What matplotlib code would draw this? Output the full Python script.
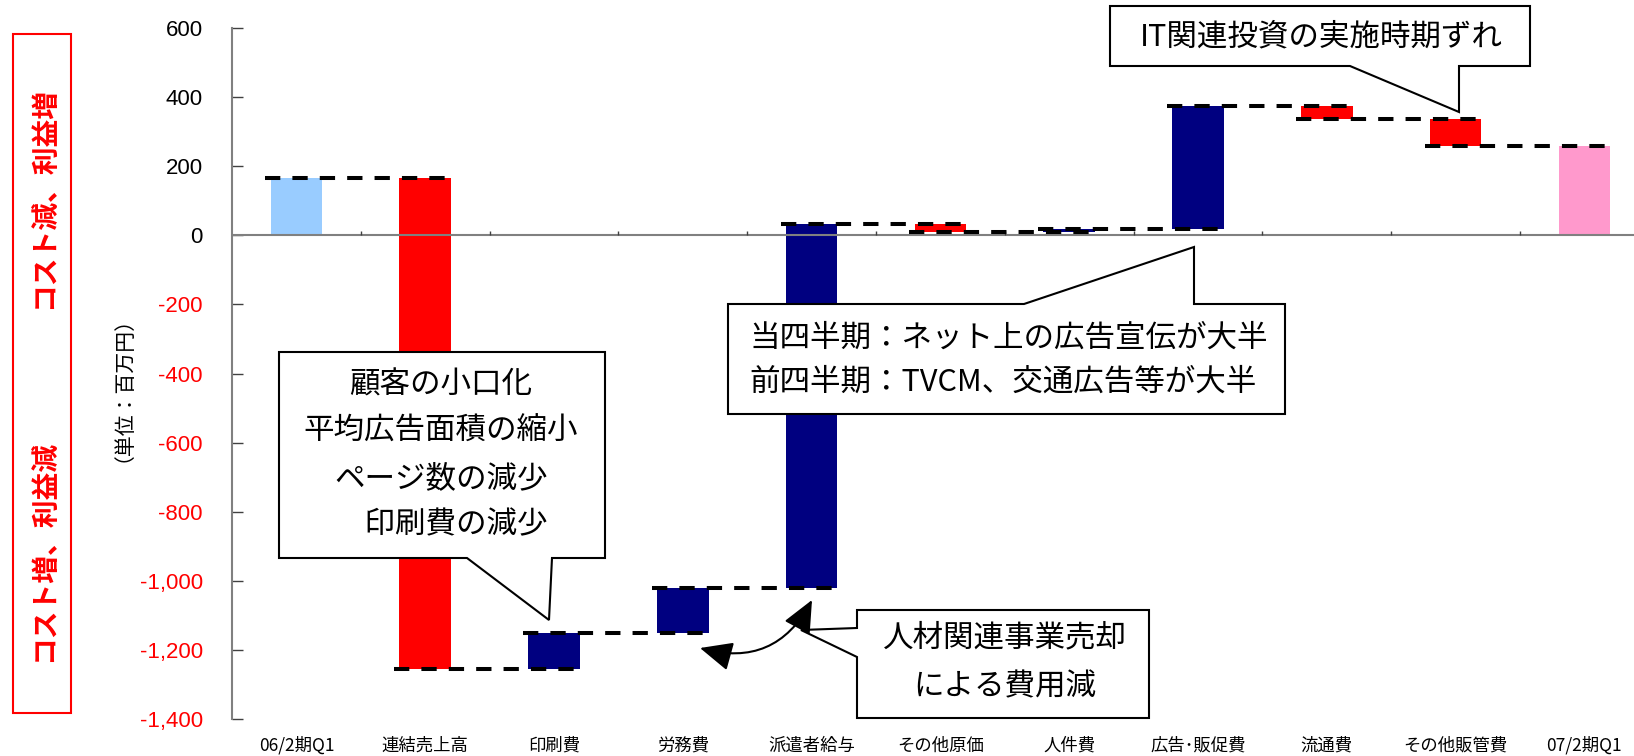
import matplotlib.pyplot as plt
import numpy as np
from matplotlib.patches import Polygon, Rectangle, FancyArrowPatch

plt.rcParams['font.family'] = ['Noto Sans CJK JP', 'DejaVu Sans']

# data (百万円)
categories = ['06/2期Q1', '連結売上高', '印刷費', '労務費', '派遣者給与', 'その他原価',
              '人件費', '広告･販促費', '流通費', 'その他販管費', '07/2期Q1']
start_value = 165
changes = [-1420, 105, 130, 1052, -23, 8, 356, -37, -78]
end_value = 258
yticks = [600, 400, 200, 0, -200, -400, -600, -800, -1000, -1200, -1400]

W, H = 1634, 756


def P(x, y):
    # pixel position (from top-left) -> figure fraction
    return (x / W, 1 - y / H)


fig = plt.figure(figsize=(W / 100, H / 100), dpi=100)
ax = fig.add_axes([232 / W, 1 - 719 / H, (W - 232) / W, (719 - 28) / H])

# waterfall geometry
levels = np.concatenate([[start_value], start_value + np.cumsum(changes)])
n = len(categories)
x = np.arange(n)
bottoms, heights, colors = [], [], []
bottoms.append(0); heights.append(start_value); colors.append('#99CCFF')
for i, c in enumerate(changes):
    bottoms.append(levels[i])
    heights.append(c)
    colors.append('#FF0000' if c < 0 else '#000080')
bottoms.append(0); heights.append(end_value); colors.append('#FF99CC')

bw = 0.4
ax.bar(x, heights, bottom=bottoms, width=bw, color=colors, zorder=2)

# connectors
for i in range(n - 1):
    ax.plot([x[i] - bw / 2 - 0.04, x[i + 1] + bw / 2], [levels[i], levels[i]],
            color='black', lw=2.9, dashes=(3.8, 3.0), solid_capstyle='butt',
            dash_capstyle='butt', zorder=4)

ax.axhline(0, color='#808080', lw=1.5, zorder=3)
ax.vlines(np.arange(0.5, n - 0.5), 0, 12, color='#404040', lw=1, zorder=3)

ax.set_xlim(-0.5, -0.5 + (W - 232) / 128.8)
ax.set_ylim(-1400, 600)
for s in ['top', 'right', 'bottom']:
    ax.spines[s].set_visible(False)
ax.spines['left'].set_color('#808080')
ax.spines['left'].set_linewidth(1.5)
ax.set_xticks([])
ax.set_yticks(yticks)
ax.set_yticklabels(['{:,}'.format(v) for v in yticks], family='Liberation Sans', fontsize=16)
for lab, v in zip(ax.get_yticklabels(), yticks):
    lab.set_color('red' if v < 0 else 'black')
ax.tick_params(axis='y', direction='in', length=8, width=1, color='#404040', pad=21)

for i, c in enumerate(categories):
    ax.annotate(c, xy=(i, 0), xycoords=('data', 'axes fraction'), xytext=(0, -19),
                textcoords='offset points', ha='center', va='center', fontsize=12.5)

# left side box
fig.add_artist(Rectangle(P(13, 713), 58 / W, (713 - 34) / H, transform=fig.transFigure,
                         fill=False, edgecolor='red', lw=1.5))
fig.text(*P(45, 198), 'コスト減、利益増', rotation=90, color='red', fontsize=20,
         fontweight='bold', ha='center', va='center')
fig.text(*P(45, 551), 'コスト増、利益減', rotation=90, color='red', fontsize=20,
         fontweight='bold', ha='center', va='center')
fig.text(*P(113, 378), '（単位：百万円）', rotation=90, fontsize=15, ha='center', va='center')


# callouts
def callout(pts):
    fig.add_artist(Polygon([P(px, py) for px, py in pts], closed=True, transform=fig.transFigure,
                           facecolor='white', edgecolor='black', lw=1.5, zorder=5))


callout([(1110, 6), (1530, 6), (1530, 66), (1459, 66), (1459, 112), (1350, 66), (1110, 66)])
fig.text(*P(1321, 37), 'IT関連投資の実施時期ずれ', fontsize=22, ha='center', va='center', zorder=6)

callout([(728, 304), (1024, 304), (1194, 247), (1194, 304), (1285, 304), (1285, 414), (728, 414)])
fig.text(*P(749, 338), '当四半期：ネット上の広告宣伝が大半', fontsize=22, ha='left', va='center', zorder=6)
fig.text(*P(749, 382), '前四半期：TVCM、交通広告等が大半', fontsize=22, ha='left', va='center', zorder=6)

callout([(279, 352), (605, 352), (605, 558), (552, 558), (549, 620), (467, 558), (279, 558)])
for k, t in enumerate(['顧客の小口化', '平均広告面積の縮小', 'ページ数の減少', '　印刷費の減少']):
    fig.text(*P(441, 385 + 46.7 * k), t, fontsize=22, ha='center', va='center', zorder=6)

callout([(857, 610), (1149, 610), (1149, 718), (857, 718), (857, 657), (801, 630), (857, 628)])
fig.text(*P(1005, 638), '人材関連事業売却', fontsize=22, ha='center', va='center', zorder=6)
fig.text(*P(1005, 687), 'による費用減', fontsize=22, ha='center', va='center', zorder=6)

arr = FancyArrowPatch(P(700, 648), P(812, 600), transform=fig.transFigure,
                      connectionstyle='arc3,rad=0.4',
                      arrowstyle='<|-|>,head_length=1.0,head_width=0.45',
                      mutation_scale=20, color='black', lw=1.5, shrinkA=0, shrinkB=0, zorder=6)
fig.add_artist(arr)

fig.savefig('out.png', dpi=100)
